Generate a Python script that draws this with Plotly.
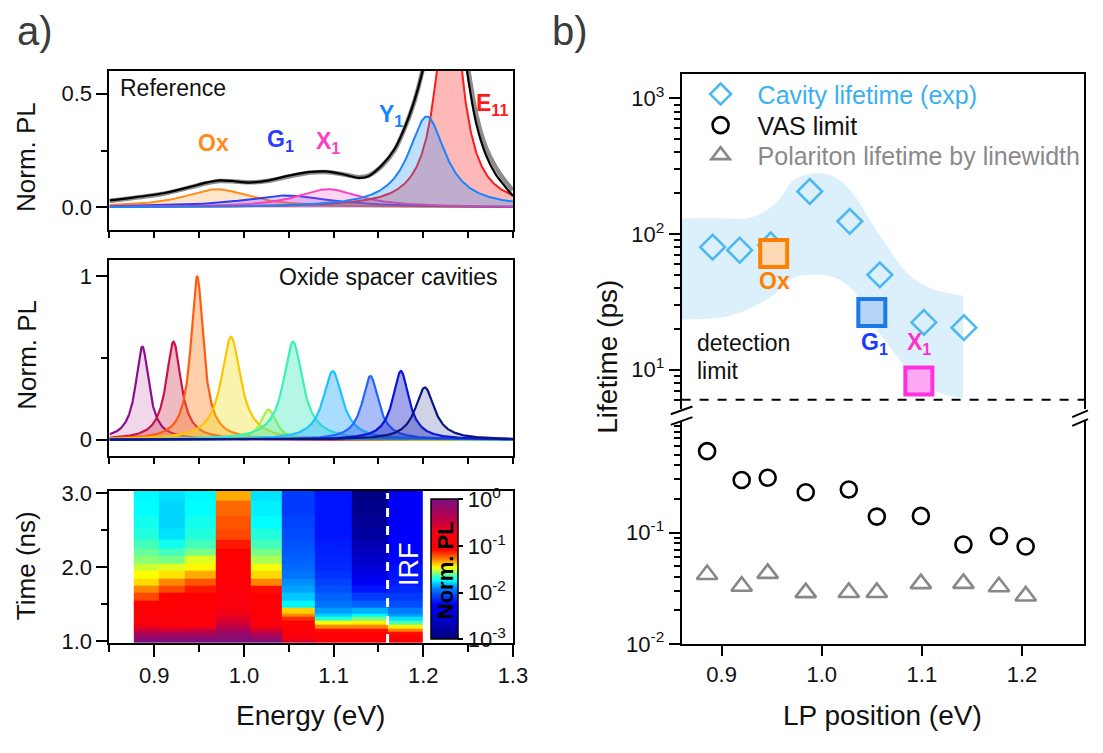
import numpy as np
import plotly.graph_objects as go

FONT = "Liberation Sans, Arial, sans-serif"
W, H = 1103, 753


def fx(p):
    return p / W


def fy(p):
    return 1 - p / H


def lorentz(x, c, h, w):
    return h / (1 + ((x - c) / (w / 2)) ** 2)


energy_grid = np.linspace(0.85, 1.30, 901)

# ---------------- a) top: reference spectrum and fitted components
ref_names = ["Ox", "G<sub>1</sub>", "X<sub>1</sub>", "Y<sub>1</sub>", "E<sub>11</sub>"]
ref_center = [0.970, 1.047, 1.094, 1.204, 1.229]
ref_height = [0.080, 0.052, 0.080, 0.400, 1.000]
ref_fwhm = [0.090, 0.120, 0.085, 0.050, 0.034]
ref_colors = ["#ff8c1a", "#2b3cff", "#ff3fbf", "#1a84ff", "#ff1a1a"]
ref_fills = ["rgba(255,150,40,0.25)", "rgba(70,60,255,0.22)", "rgba(255,70,190,0.22)",
             "rgba(40,150,255,0.30)", "rgba(255,40,40,0.33)"]
ref_label_x = [0.966, 1.041, 1.094, 1.164, 1.277]
ref_label_y = [0.285, 0.294, 0.285, 0.405, 0.455]

ref_energy = [0.850, 0.874, 0.910, 0.940, 0.958, 0.973, 0.987, 1.006, 1.028, 1.050,
              1.072, 1.091, 1.109, 1.128, 1.139, 1.154, 1.168, 1.179, 1.190, 1.199,
              1.210, 1.220, 1.229, 1.238, 1.248, 1.259, 1.270, 1.281, 1.292, 1.300]
ref_measured = [0.031, 0.042, 0.062, 0.090, 0.109, 0.119, 0.116, 0.109, 0.119, 0.140,
                0.155, 0.158, 0.147, 0.130, 0.137, 0.186, 0.257, 0.349, 0.469, 0.596,
                0.800, 0.970, 1.000, 0.930, 0.620, 0.370, 0.229, 0.144, 0.088, 0.050]
ref_fit = [0.028, 0.040, 0.060, 0.088, 0.106, 0.116, 0.115, 0.110, 0.117, 0.136,
           0.152, 0.156, 0.147, 0.133, 0.140, 0.183, 0.252, 0.345, 0.465, 0.600,
           0.810, 0.975, 1.000, 0.945, 0.660, 0.410, 0.262, 0.175, 0.112, 0.075]

# ---------------- a) middle: oxide spacer cavity spectra
cav_center = [0.8866, 0.9214, 0.9478, 0.9855, 1.0273, 1.0547, 1.0990, 1.1410, 1.1750, 1.2017]
cav_height = [0.57, 0.60, 1.00, 0.63, 0.185, 0.60, 0.42, 0.39, 0.42, 0.32]
cav_fwhm = [0.018, 0.020, 0.017, 0.026, 0.020, 0.026, 0.026, 0.022, 0.022, 0.026]
cav_colors = ["#8c0f8c", "#c8124e", "#ff5c10", "#ffc400", "#a6f040",
              "#3ef0b4", "#1ec2ff", "#2466ff", "#0a14e0", "#0c1680"]
cav_fills = ["rgba(170,40,140,0.18)", "rgba(200,30,60,0.30)", "rgba(255,130,30,0.38)",
             "rgba(240,225,40,0.38)", "rgba(170,240,100,0.30)", "rgba(60,235,190,0.38)",
             "rgba(40,170,255,0.40)", "rgba(40,90,240,0.40)", "rgba(20,30,200,0.40)",
             "rgba(40,50,140,0.22)"]

# ---------------- a) bottom: time-resolved PL map (log10 of normalised PL)
heat_edges = [0.8771, 0.9049, 0.9338, 0.9687, 1.0075, 1.0423, 1.0786, 1.1200, 1.1602, 1.1998]
heat_time = [1.0, 1.05, 1.1, 1.15, 1.2, 1.25, 1.3, 1.35, 1.4, 1.5, 1.6, 1.7,
             1.8, 1.9, 2.0, 2.1, 2.2, 2.3, 2.45, 2.6, 2.8, 3.0]
col1 = [-0.05, -0.15, -0.35, -0.50, -0.70, -0.82, -0.88, -0.92, -0.96, -1.05, -1.20, -1.30,
        -1.42, -1.47, -1.52, -1.58, -1.62, -1.66, -1.70, -1.72, -1.74, -1.75]
col2 = [-0.05, -0.15, -0.35, -0.55, -0.75, -0.85, -0.88, -0.92, -0.95, -1.00, -1.08, -1.20,
        -1.30, -1.43, -1.50, -1.60, -1.66, -1.72, -1.78, -1.80, -1.80, -1.78]
col3 = [-0.05, -0.15, -0.35, -0.50, -0.75, -0.85, -0.88, -0.90, -0.92, -0.98, -1.05, -1.12,
        -1.22, -1.35, -1.46, -1.50, -1.60, -1.66, -1.70, -1.72, -1.74, -1.75]
col4 = [-0.05, -0.10, -0.20, -0.30, -0.45, -0.55, -0.62, -0.68, -0.74, -0.80, -0.85, -0.90,
        -0.95, -1.00, -1.02, -1.05, -1.08, -1.12, -1.20, -1.22, -1.25, -1.35]
col5 = [-0.08, -0.20, -0.40, -0.55, -0.80, -0.88, -0.90, -0.92, -0.95, -0.98, -1.02, -1.10,
        -1.30, -1.42, -1.48, -1.55, -1.60, -1.66, -1.70, -1.74, -1.76, -1.78]
col6 = [-0.60, -0.75, -0.85, -0.95, -1.00, -1.05, -1.15, -1.30, -1.40, -1.75, -1.82, -1.87,
        -1.90, -1.95, -1.98, -2.00, -2.02, -2.04, -2.06, -2.08, -2.10, -2.10]
col7 = [-0.90, -0.95, -1.00, -1.10, -1.30, -1.47, -1.70, -1.80, -1.88, -1.95, -2.00, -2.05,
        -2.08, -2.12, -2.15, -2.16, -2.17, -2.18, -2.20, -2.20, -2.20, -2.20]
col8 = [-0.90, -0.95, -1.00, -1.10, -1.30, -1.45, -1.60, -1.75, -1.85, -2.00, -2.10, -2.20,
        -2.30, -2.40, -2.50, -2.58, -2.65, -2.72, -2.80, -2.85, -2.90, -2.95]
col9 = [-0.95, -1.00, -1.10, -1.30, -1.45, -1.65, -1.78, -1.88, -1.93, -2.05, -2.10, -2.15,
        -2.18, -2.20, -2.22, -2.24, -2.25, -2.26, -2.27, -2.28, -2.29, -2.30]
heat_columns = [col1, col2, col3, col4, col5, col6, col7, col8, col9]
irf_energy = 1.1602

pl_colorscale = [
    [0.00, "#00007a"], [0.12, "#0000c0"], [0.25, "#0000ff"], [0.36, "#0080ff"],
    [0.42, "#00ffff"], [0.47, "#80ff80"], [0.51, "#ffff00"], [0.57, "#ff8000"],
    [0.64, "#ff0000"], [0.75, "#f80010"], [0.85, "#c00048"], [1.00, "#781080"],
]

# ---------------- b) lifetimes
cav_lp = [0.891, 0.918, 0.949, 0.988, 1.028, 1.058, 1.102, 1.142]
cav_tau = [80, 76, 83, 206, 124, 50, 22.3, 20.4]

band_x = [0.859, 0.900, 0.927, 0.953, 0.973, 0.994, 1.012, 1.032, 1.048, 1.065, 1.085, 1.108, 1.124, 1.141]
band_hi = [131, 131, 131, 166, 251, 281, 265, 196, 127, 82, 52, 40, 37, 35]
band_lo = [23.4, 24.2, 28, 36, 48, 50, 48, 38, 23, 15.8, 10.2, 7.3, 6.5, 6.2]

film_names = ["Ox", "G<sub>1</sub>", "X<sub>1</sub>"]
film_lp = [0.952, 1.050, 1.097]
film_tau = [72, 26.4, 8.26]
film_line = ["#ff8000", "#1a7ae8", "#ff30e0"]
film_fill = ["#fdd8b4", "#b5d4f5", "#ffa8f4"]
film_text = ["#ff8000", "#1a3cff", "#ff33cc"]

vas_lp = [0.8855, 0.920, 0.946, 0.984, 1.027, 1.055, 1.099, 1.1415, 1.177, 1.2037]
vas_tau = [0.537, 0.296, 0.310, 0.230, 0.243, 0.139, 0.141, 0.078, 0.093, 0.075]
pol_tau = [0.042, 0.033, 0.043, 0.0289, 0.029, 0.029, 0.0348, 0.035, 0.0326, 0.027]

detection_limit = 6.0

fig = go.Figure()

# --- a) top
for order in [0, 1, 2, 4, 3]:
    y = lorentz(energy_grid, ref_center[order], ref_height[order], ref_fwhm[order])
    fig.add_trace(go.Scatter(x=energy_grid, y=y, mode="lines", fill="tozeroy",
                             fillcolor=ref_fills[order],
                             line=dict(color=ref_colors[order], width=2),
                             showlegend=False, xaxis="x", yaxis="y"))
fig.add_trace(go.Scatter(x=ref_energy, y=ref_fit, mode="lines",
                         line=dict(color="#8c8c8c", width=4.5, shape="spline", smoothing=0.7),
                         showlegend=False, xaxis="x", yaxis="y"))
fig.add_trace(go.Scatter(x=ref_energy, y=ref_measured, mode="lines",
                         line=dict(color="black", width=2.2, shape="spline", smoothing=0.7),
                         showlegend=False, xaxis="x", yaxis="y"))

# --- a) middle
for c, h, w, lc, fc in zip(cav_center, cav_height, cav_fwhm, cav_colors, cav_fills):
    fig.add_trace(go.Scatter(x=energy_grid, y=lorentz(energy_grid, c, h, w), mode="lines",
                             fill="tozeroy", fillcolor=fc, line=dict(color=lc, width=2.2),
                             showlegend=False, xaxis="x2", yaxis="y2"))

# --- a) bottom
z = np.array(heat_columns).T
fig.add_trace(go.Heatmap(
    x=heat_edges, y=heat_time, z=z, zmin=-3, zmax=0, colorscale=pl_colorscale,
    xaxis="x3", yaxis="y3",
    colorbar=dict(x=fx(437), xanchor="left", y=fy(577), yanchor="middle",
                  len=140, lenmode="pixels", thickness=27, thicknessmode="pixels",
                  outlinewidth=1.5, outlinecolor="black", xpad=0, ypad=0,
                  tickvals=[-3, -2, -1, 0],
                  ticktext=["10<sup>-3</sup>", "10<sup>-2</sup>", "10<sup>-1</sup>", "10<sup>0</sup>"],
                  ticks="outside", ticklen=5, tickwidth=2, tickcolor="black",
                  tickfont=dict(family=FONT, size=22, color="#111")),
))

# --- b) upper
fig.add_trace(go.Scatter(x=band_x, y=band_lo, mode="lines", line=dict(width=0, shape="spline"),
                         showlegend=False, hoverinfo="skip", xaxis="x4", yaxis="y4"))
fig.add_trace(go.Scatter(x=band_x, y=band_hi, mode="lines", line=dict(width=0, shape="spline"),
                         fill="tonexty", fillcolor="#dcf0fb",
                         showlegend=False, hoverinfo="skip", xaxis="x4", yaxis="y4"))
fig.add_trace(go.Scatter(x=[0.86, 1.262], y=[detection_limit, detection_limit], mode="lines",
                         line=dict(color="black", width=1.8, dash="dash"),
                         showlegend=False, xaxis="x4", yaxis="y4"))
fig.add_trace(go.Scatter(x=cav_lp, y=cav_tau, mode="markers",
                         marker=dict(symbol="diamond-open", size=19, color="#4db8f0",
                                     line=dict(width=2.6, color="#4db8f0")),
                         name='<span style="color:#3ab0f0">Cavity lifetime (exp)</span>',
                         legend="legend", xaxis="x4", yaxis="y4"))
fig.add_trace(go.Scatter(x=film_lp, y=film_tau, mode="markers",
                         marker=dict(symbol="square", size=27, color=film_fill,
                                     line=dict(width=4, color=film_line)),
                         showlegend=False, xaxis="x4", yaxis="y4"))

# --- b) lower
fig.add_trace(go.Scatter(x=vas_lp, y=vas_tau, mode="markers",
                         marker=dict(symbol="circle-open", size=16, color="black",
                                     line=dict(width=2.6, color="black")),
                         name="VAS limit", legend="legend2", xaxis="x5", yaxis="y5"))
fig.add_trace(go.Scatter(x=vas_lp, y=pol_tau, mode="markers",
                         marker=dict(symbol="triangle-up-open", size=18, color="#888888",
                                     line=dict(width=2.6, color="#888888")),
                         name='<span style="color:#8a8a8a">Polariton lifetime by linewidth</span>',
                         legend="legend3", xaxis="x5", yaxis="y5"))

tickfont = dict(family=FONT, size=22, color="#111")
base = dict(showgrid=False, zeroline=False, showline=True, linecolor="black", linewidth=2,
            ticks="outside", tickcolor="black", tickwidth=2, tickfont=tickfont)


def minor(vals, length=6):
    return dict(tickvals=vals, ticklen=length, ticks="outside", tickcolor="black", tickwidth=2)


def legend_row(ypx):
    return dict(x=fx(693), y=fy(ypx), xanchor="left", yanchor="middle",
                font=dict(family=FONT, size=25, color="#111"), bgcolor="rgba(0,0,0,0)",
                itemwidth=64, itemsizing="trace", borderwidth=0)


ax_left = [fx(111), fx(520)]
ax_right = [fx(691), fx(1099)]
e_ticks = [0.85, 0.90, 0.95, 1.00, 1.05, 1.10, 1.15, 1.20, 1.25, 1.30]

decade_minor_hi = [k * 10.0 ** d for d in range(0, 4) for k in range(2, 10)]
decade_minor_lo = [k * 10.0 ** d for d in (-2, -1) for k in range(2, 10)]

fig.update_layout(
    width=W, height=H, margin=dict(l=0, r=0, t=0, b=0), autosize=False,
    paper_bgcolor="white", plot_bgcolor="white",
    font=dict(family=FONT, color="#111"),
    xaxis=dict(base, domain=ax_left, range=[0.85, 1.30], anchor="y", mirror=True,
               tickvals=e_ticks, ticklen=6, showticklabels=False),
    yaxis=dict(base, domain=[fy(227), fy(63)], range=[-0.1, 0.6], anchor="x", mirror=True,
               tickvals=[0, 0.5], ticktext=["0.0", "0.5"], ticklen=11, minor=minor([0.25])),
    xaxis2=dict(base, domain=ax_left, range=[0.85, 1.30], anchor="y2", mirror=True,
                tickvals=e_ticks, ticklen=6, showticklabels=False),
    yaxis2=dict(base, domain=[fy(460), fy(258)], range=[-0.1, 1.1], anchor="x2", mirror=True,
                tickvals=[0, 1], ticktext=["0", "1"], ticklen=11, minor=minor([0.5])),
    xaxis3=dict(base, domain=ax_left, range=[0.85, 1.30], anchor="y3", mirror=True,
                tickvals=[0.9, 1.0, 1.1, 1.2, 1.3], ticktext=["0.9", "1.0", "1.1", "1.2", "1.3"],
                ticklen=12, minor=minor([0.85, 0.95, 1.05, 1.15, 1.25], 7)),
    yaxis3=dict(base, domain=[fy(653), fy(496)], range=[0.975, 3.03], anchor="x3", mirror=True,
                tickvals=[1, 2, 3], ticktext=["1.0", "2.0", "3.0"], ticklen=11, minor=minor([1.5, 2.5])),
    xaxis4=dict(base, domain=ax_right, range=[0.86, 1.262], anchor="y4", side="top",
                ticks="", showticklabels=False),
    yaxis4=dict(base, domain=[fy(412), fy(66)], type="log", range=[0.707, 3.18], anchor="x4", mirror=True,
                tickvals=[10, 100, 1000], ticktext=["10<sup>1</sup>", "10<sup>2</sup>", "10<sup>3</sup>"],
                ticklen=11, minor=minor(decade_minor_hi)),
    xaxis5=dict(base, domain=ax_right, range=[0.86, 1.262], anchor="y5",
                tickvals=[0.9, 1.0, 1.1, 1.2], ticktext=["0.9", "1.0", "1.1", "1.2"], ticklen=10),
    yaxis5=dict(base, domain=[fy(654), fy(424)], type="log", range=[-2, 0], anchor="x5", mirror=True,
                tickvals=[0.01, 0.1], ticktext=["10<sup>-2</sup>", "10<sup>-1</sup>"],
                ticklen=11, minor=minor(decade_minor_lo)),
    legend=legend_row(87),
    legend2=legend_row(119),
    legend3=legend_row(150),
)

ann = []


def text(x, y, s, size=23, color="#111", xanchor="center", yanchor="middle", angle=0, bold=False,
         xref="paper", yref="paper"):
    if bold:
        s = "<b>" + s + "</b>"
    ann.append(dict(x=x, y=y, xref=xref, yref=yref, text=s, showarrow=False,
                    xanchor=xanchor, yanchor=yanchor, textangle=angle,
                    font=dict(family=FONT, size=size, color=color)))


text(fx(35), fy(22), "a)", size=40, color="#3c3c3c")
text(fx(578), fy(22), "b)", size=40, color="#3c3c3c")
text(fx(27), fy(152), "Norm. PL", size=26, angle=-90)
text(fx(27), fy(356), "Norm. PL", size=26, angle=-90)
text(fx(27), fy(573), "Time (ns)", size=26, angle=-90)
text(fx(315), fy(728), "Energy (eV)", size=28)
text(fx(895), fy(728), "LP position (eV)", size=28)
text(fx(615), fy(358), "Lifetime (ps)", size=28, angle=-90)

text(fx(120), fy(80), "Reference", size=23, xanchor="left")
for name, lx, ly, col in zip(ref_names, ref_label_x, ref_label_y, ref_colors):
    text(lx, ly, name, size=23, color=col, bold=True, xref="x", yref="y")
text(fx(507), fy(275), "Oxide spacer cavities", size=23, xanchor="right")

text(fx(414), fy(571), "IRF", size=27, color="white", angle=-90)
text(fx(451), fy(578), "Norm. PL", size=22, color="black", angle=-90, bold=True)

text(fx(705), fy(344), "detection", size=23, xanchor="left")
text(fx(705), fy(372), "limit", size=23, xanchor="left")
for name, px, col in zip(film_names, [(785, 280), (887, 344), (932, 344)], film_text):
    text(fx(px[0]), fy(px[1]), name, size=23, color=col, bold=True)

shapes = [
    dict(type="line", xref="x3", yref="y3", x0=irf_energy, x1=irf_energy, y0=0.975, y1=3.0,
         line=dict(color="white", width=3, dash="dash")),
]
for (x0, y0, x1, y1) in [(680, 417, 702, 409), (680, 428, 702, 420),
                         (1087, 420, 1103, 413), (1087, 429, 1103, 422)]:
    shapes.append(dict(type="line", xref="paper", yref="paper", x0=fx(x0), y0=fy(y0),
                       x1=fx(x1), y1=fy(y1), line=dict(color="black", width=2)))

fig.update_layout(annotations=ann, shapes=shapes)
fig.write_html("out.html")
